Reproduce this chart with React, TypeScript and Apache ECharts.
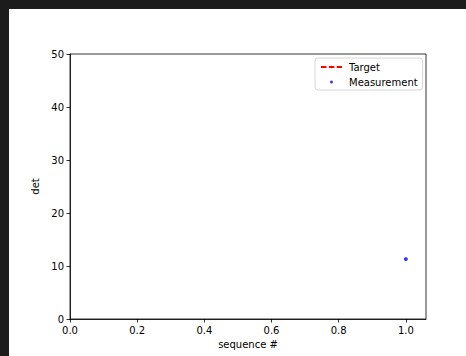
import React, { useEffect, useRef } from "react";
import * as echarts from "echarts";

const seqValues = [1.0];
const detValues = [11.3];
const targetValues: number[][] = [];
const xTicks = [0, 0.2, 0.4, 0.6, 0.8, 1.0];
const yTicks = [0, 10, 20, 30, 40, 50];
const seriesNames = ["Target", "Measurement"];

const FONT = "DejaVu Sans";

export default function App() {
  const ref = useRef<HTMLDivElement>(null);
  useEffect(() => {
    document.body.style.margin = "0";
    const chart = echarts.init(ref.current!, null, { renderer: "svg" });
    const axisText = { color: "#000", fontFamily: FONT, fontSize: 10 };
    chart.setOption({
      animation: false,
      backgroundColor: "#1c1c1c",
      graphic: [
        {
          type: "rect",
          z: -10,
          silent: true,
          shape: { x: 9, y: 9, width: 457, height: 347 },
          style: { fill: "#ffffff" },
        },
      ],
      grid: {
        left: 70,
        top: 54,
        width: 356,
        height: 265,
        show: true,
        borderColor: "#000",
        borderWidth: 0.8,
        backgroundColor: "transparent",
      },
      legend: {
        left: 315,
        top: 58,
        orient: "vertical",
        data: seriesNames,
        itemWidth: 21,
        itemHeight: 3,
        itemGap: 5,
        padding: [4, 5, 3, 5],
        borderColor: "#d6d6d6",
        borderWidth: 1,
        borderRadius: 3,
        backgroundColor: "rgba(255,255,255,0.8)",
        textStyle: { ...axisText, padding: [0, 0, 0, 2] },
      },
      xAxis: {
        type: "value",
        min: 0,
        max: 1.06,
        interval: 0.2,
        name: "sequence #",
        nameLocation: "middle",
        nameGap: 19,
        nameTextStyle: axisText,
        axisLine: { show: true, lineStyle: { color: "#000", width: 0.8 } },
        axisTick: {
          show: true,
          length: 3.5,
          lineStyle: { color: "#000", width: 0.8 },
          customValues: xTicks,
        },
        axisLabel: {
          ...axisText,
          margin: 6,
          customValues: xTicks,
          formatter: (v: number) => v.toFixed(1),
        },
        splitLine: { show: false },
      },
      yAxis: {
        type: "value",
        min: 0,
        max: 50,
        interval: 10,
        name: "det",
        nameLocation: "middle",
        nameGap: 23,
        nameTextStyle: axisText,
        axisLine: { show: true, lineStyle: { color: "#000", width: 0.8 } },
        axisTick: {
          show: true,
          length: 3.5,
          lineStyle: { color: "#000", width: 0.8 },
          customValues: yTicks,
        },
        axisLabel: { ...axisText, margin: 6, customValues: yTicks },
        splitLine: { show: false },
      },
      series: [
        {
          name: seriesNames[0],
          type: "line",
          data: targetValues,
          symbol: "none",
          lineStyle: { color: "#ff0000", type: [5.5, 2.4], width: 1.5 },
          itemStyle: { color: "#ff0000" },
        },
        {
          name: seriesNames[1],
          type: "scatter",
          data: seqValues.map((x, i) => [x, detValues[i]]),
          symbol: "circle",
          symbolSize: 4,
          itemStyle: { color: "#0000ff" },
        },
      ],
    });
    return () => chart.dispose();
  }, []);
  return (
    <div
      ref={ref}
      style={{ position: "fixed", left: 0, top: 0, width: 466, height: 356 }}
    />
  );
}
